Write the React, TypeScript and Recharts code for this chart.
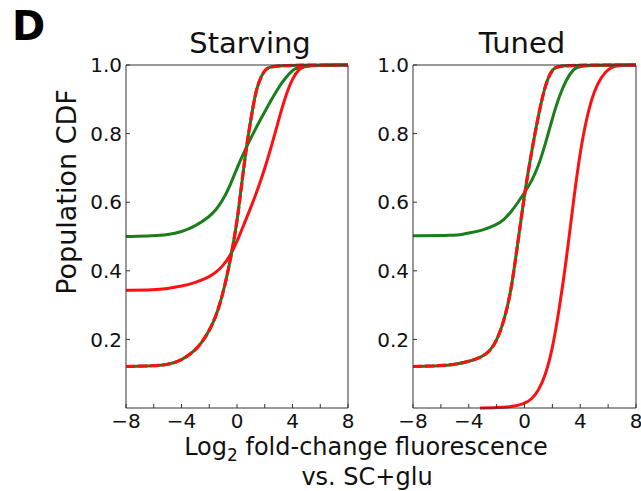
import React from 'react';
import { LineChart, Line, XAxis, YAxis } from 'recharts';

// ---- Data ----
const xTicks = [-8, -6, -4, -2, 0, 2, 4, 6, 8];
const yTicks = [0.2, 0.4, 0.6, 0.8, 1.0];
const panelTitles = ['Starving', 'Tuned'];

// Starving panel
const starvGreenX = [-8, -6, -5, -4, -3, -2, -1.5, -1, -0.5, 0, 0.5, 1, 1.5, 2, 2.5, 3, 3.5, 4, 4.5, 8];
const starvGreenY = [0.5, 0.502, 0.505, 0.513, 0.53, 0.557, 0.578, 0.607, 0.648, 0.7, 0.745, 0.787, 0.827, 0.864, 0.9, 0.935, 0.963, 0.985, 0.998, 1.0];
const starvRedX = [-8, -6, -5, -4, -3, -2, -1.5, -1, -0.5, 0, 0.5, 1, 1.5, 2, 2.5, 3, 3.5, 4, 4.5, 5, 8];
const starvRedY = [0.343, 0.344, 0.348, 0.355, 0.365, 0.382, 0.396, 0.415, 0.443, 0.485, 0.535, 0.585, 0.638, 0.698, 0.765, 0.84, 0.91, 0.962, 0.99, 1.0, 1.0];
const starvDashX = [-8, -6, -5, -4, -3, -2.5, -2, -1.5, -1, -0.5, 0, 0.25, 0.5, 0.75, 1, 1.25, 1.5, 2, 2.5, 8];
const starvDashY = [0.121, 0.123, 0.126, 0.138, 0.168, 0.193, 0.225, 0.268, 0.335, 0.425, 0.54, 0.625, 0.705, 0.78, 0.842, 0.9, 0.945, 0.988, 1.0, 1.0];

// Tuned panel
const tunedGreenX = [-8, -5, -4.4, -4, -3, -2, -1.5, -1, -0.5, 0, 0.5, 1, 1.5, 2, 2.5, 3, 3.5, 4, 8];
const tunedGreenY = [0.502, 0.503, 0.507, 0.51, 0.518, 0.534, 0.548, 0.57, 0.597, 0.628, 0.66, 0.705, 0.77, 0.845, 0.91, 0.958, 0.988, 1.0, 1.0];
const tunedRedX = [-3.2, -2, -1, 0, 0.5, 1, 1.5, 2, 2.5, 3, 3.5, 4, 4.5, 5, 5.5, 6, 6.5, 7, 8];
const tunedRedY = [0.0, 0.001, 0.003, 0.012, 0.025, 0.05, 0.095, 0.17, 0.29, 0.43, 0.6, 0.75, 0.855, 0.925, 0.965, 0.988, 0.997, 1.0, 1.0];
const tunedDashX = [-8, -6, -5, -4, -3, -2.5, -2, -1.5, -1, -0.5, 0, 0.5, 1, 1.5, 2, 2.5, 8];
const tunedDashY = [0.121, 0.123, 0.127, 0.135, 0.15, 0.165, 0.195, 0.25, 0.33, 0.475, 0.625, 0.745, 0.855, 0.945, 0.99, 1.0, 1.0];

const zip = (xs: number[], ys: number[]) => xs.map((x, i) => ({ x, y: ys[i] }));

const GREEN = '#1a7f1a';
const RED = '#ff1010';
const AXIS = '#333';
const FONT = 'DejaVu Sans, sans-serif';

const fmtX = (v: number) => (v % 4 === 0 ? (v < 0 ? '\u2212' + Math.abs(v) : String(v)) : '');
const fmtY = (v: number) => v.toFixed(1);
const Empty = () => <g />;

type PanelProps = {
  left: number;
  width: number;
  yAxisWidth: number;
  rightMargin: number;
  solidGreen: { x: number; y: number }[];
  solidRed: { x: number; y: number }[];
  dashed: { x: number; y: number }[];
};

function Panel({ left, width, yAxisWidth, rightMargin, solidGreen, solidRed, dashed }: PanelProps) {
  return (
    <div style={{ position: 'absolute', left, top: 50 }}>
      <LineChart width={width} height={400} margin={{ top: 14, right: rightMargin, bottom: 0, left: 0 }}>
        <XAxis
          xAxisId="b"
          type="number"
          dataKey="x"
          domain={[-8, 8]}
          ticks={xTicks}
          tickFormatter={fmtX}
          orientation="bottom"
          height={42}
          stroke={AXIS}
          tickSize={-4}
          tickMargin={10}
          interval={0}
          tick={{ fontSize: 20, fill: '#111', fontFamily: FONT }}
        />
        <XAxis
          xAxisId="t"
          type="number"
          dataKey="x"
          domain={[-8, 8]}
          ticks={xTicks}
          orientation="top"
          height={1}
          stroke={AXIS}
          tickSize={-4}
          interval={0}
          tick={Empty}
        />
        <YAxis
          yAxisId="l"
          type="number"
          domain={[0, 1]}
          ticks={yTicks}
          tickFormatter={fmtY}
          orientation="left"
          width={yAxisWidth}
          stroke={AXIS}
          tickSize={-4}
          tickMargin={8}
          interval={0}
          tick={{ fontSize: 20, fill: '#111', fontFamily: FONT }}
        />
        <YAxis
          yAxisId="r"
          type="number"
          domain={[0, 1]}
          ticks={yTicks}
          orientation="right"
          width={1}
          stroke={AXIS}
          tickSize={-4}
          interval={0}
          tick={Empty}
        />
        <Line xAxisId="b" yAxisId="l" data={solidGreen} dataKey="y" type="basis" stroke={GREEN} strokeWidth={3} dot={false} isAnimationActive={false} />
        <Line xAxisId="b" yAxisId="l" data={solidRed} dataKey="y" type="basis" stroke={RED} strokeWidth={3} dot={false} isAnimationActive={false} />
        <Line xAxisId="b" yAxisId="l" data={dashed} dataKey="y" type="basis" stroke={GREEN} strokeWidth={3} dot={false} isAnimationActive={false} />
        <Line xAxisId="b" yAxisId="l" data={dashed} dataKey="y" type="basis" stroke={RED} strokeWidth={3.2} strokeDasharray="9 3" dot={false} isAnimationActive={false} />
      </LineChart>
    </div>
  );
}

export default function App() {
  return (
    <div style={{ position: 'absolute', left: 0, top: 0, width: 641, height: 491, background: '#fff', overflow: 'hidden' }}>
      <Panel
        left={70}
        width={290}
        yAxisWidth={56}
        rightMargin={11}
        solidGreen={zip(starvGreenX, starvGreenY)}
        solidRed={zip(starvRedX, starvRedY)}
        dashed={zip(starvDashX, starvDashY)}
      />
      <Panel
        left={360}
        width={281}
        yAxisWidth={53}
        rightMargin={4}
        solidGreen={zip(tunedGreenX, tunedGreenY)}
        solidRed={zip(tunedRedX, tunedRedY)}
        dashed={zip(tunedDashX, tunedDashY)}
      />
      <svg width={641} height={491} style={{ position: 'absolute', left: 0, top: 0, pointerEvents: 'none' }}>
        <text x={12} y={40} fontSize={40} fontWeight="bold" fontFamily={FONT} fill="#000">D</text>
        <text x={250} y={53} fontSize={29} textAnchor="middle" fontFamily={FONT} fill="#111">{panelTitles[0]}</text>
        <text x={522} y={53} fontSize={29} textAnchor="middle" fontFamily={FONT} fill="#111">{panelTitles[1]}</text>
        <text transform="translate(76,192) rotate(-90)" fontSize={27} textAnchor="middle" fontFamily={FONT} fill="#111">Population CDF</text>
        <text x={366} y={455} fontSize={24} textAnchor="middle" fontFamily={FONT} fill="#111">
          Log<tspan fontSize={17} dy={6}>2</tspan><tspan dy={-6}> fold-change fluorescence</tspan>
        </text>
        <text x={367} y={485} fontSize={24} textAnchor="middle" fontFamily={FONT} fill="#111">vs. SC+glu</text>
      </svg>
    </div>
  );
}
